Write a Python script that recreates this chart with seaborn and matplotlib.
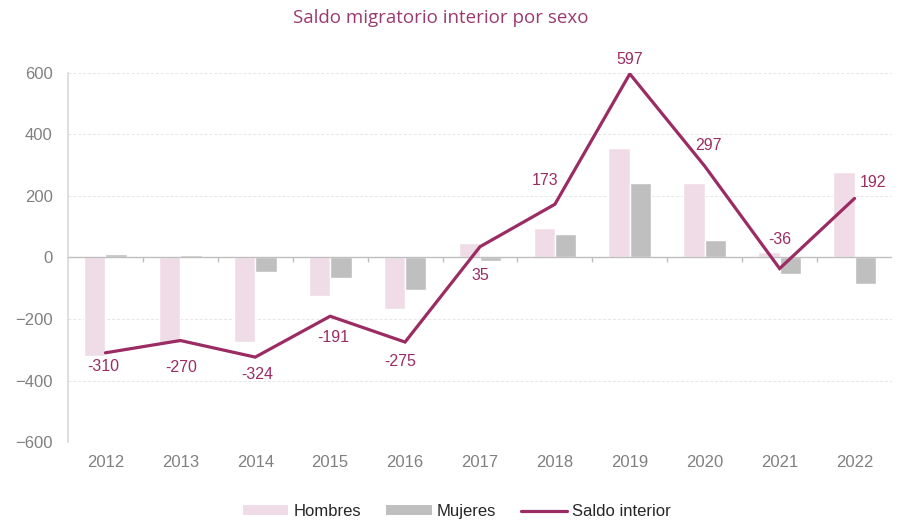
import numpy as np
import pandas as pd
import matplotlib
matplotlib.use("Agg")
import matplotlib.pyplot as plt
import seaborn as sns
from matplotlib.patches import Patch
from matplotlib.lines import Line2D

# values
years = ["2012", "2013", "2014", "2015", "2016", "2017", "2018", "2019", "2020", "2021", "2022"]
hombres = [-320, -278, -276, -125, -169, 47, 96, 356, 241, 17, 277]
mujeres = [10, 8, -48, -66, -106, -12, 77, 241, 56, -53, -85]
saldo = [-310, -270, -324, -191, -275, 35, 173, 597, 297, -36, 192]

# label offsets in pixels (dx, dy)
label_off = [(-2, -14), (1, -27), (2, -17), (3, -21), (-5, -19), (0, -29),
             (-10, 24), (0, 14), (4, 21), (0, 29), (18, 16)]

purple = "#9B2C63"
pink = "#F0DCE6"
grey = "#BFBFBF"

df = pd.DataFrame({
    "year": years * 2,
    "valor": hombres + mujeres,
    "sexo": ["Hombres"] * len(years) + ["Mujeres"] * len(years),
})

sns.set_style("white")
plt.rcParams["font.family"] = ["Liberation Sans", "DejaVu Sans"]

fig = plt.figure(figsize=(8.99, 5.21), dpi=100)
ax = fig.add_axes([0.0756, 0.1516, 0.9166, 0.7084])

sns.barplot(data=df, x="year", y="valor", hue="sexo", palette=[pink, grey],
            width=0.57, gap=0, saturation=1, ax=ax, legend=False, zorder=2)

x = np.arange(len(years))
ax.plot(x, saldo, color=purple, lw=2.3, zorder=4, solid_joinstyle="miter")
for xi, v, (dx, dy) in zip(x, saldo, label_off):
    ax.annotate(f"{v}", (xi, v), xytext=(dx, dy), textcoords="offset pixels",
                ha="center", va="center", fontsize=11.5, color=purple, zorder=5)

ax.set_ylim(-600, 600)
ax.set_xlim(-0.5, len(years) - 0.5)
ax.set_yticks(range(-600, 601, 200))
for t in range(-600, 601, 200):
    if t != 0:
        ax.axhline(t, color="#E6E6E6", lw=0.7, ls=(0, (3, 2)), zorder=0)
ax.axhline(0, color="#BFBFBF", lw=1, zorder=3)
ax.vlines(x[1:] - 0.5, -14, 0, color="#BFBFBF", lw=1, zorder=3)

for s in ["top", "right", "bottom"]:
    ax.spines[s].set_visible(False)
ax.spines["left"].set_color("#D9D9D9")
ax.spines["left"].set_linewidth(1.2)
ax.tick_params(axis="y", length=5, color="#D9D9D9", labelsize=12, labelcolor="#808080", pad=6)
ax.tick_params(axis="x", length=0, labelsize=12, labelcolor="#808080", pad=9)
ax.set_xlabel("")
ax.set_ylabel("")

fig.text(0.49, 0.965, "Saldo migratorio interior por sexo", ha="center", va="center",
         fontsize=13.5, color="#9B3A70", family=["Open Sans", "DejaVu Sans"])

handles = [Patch(facecolor=pink, edgecolor="none"),
           Patch(facecolor=grey, edgecolor="none"),
           Line2D([], [], color=purple, lw=2.3)]
fig.legend(handles, ["Hombres", "Mujeres", "Saldo interior"], loc="center",
           bbox_to_anchor=(0.508, 0.018), ncol=3, frameon=False, fontsize=12,
           handlelength=2.75, handleheight=0.55, handletextpad=0.3, columnspacing=1.5)

fig.savefig("out.png", dpi=100)
